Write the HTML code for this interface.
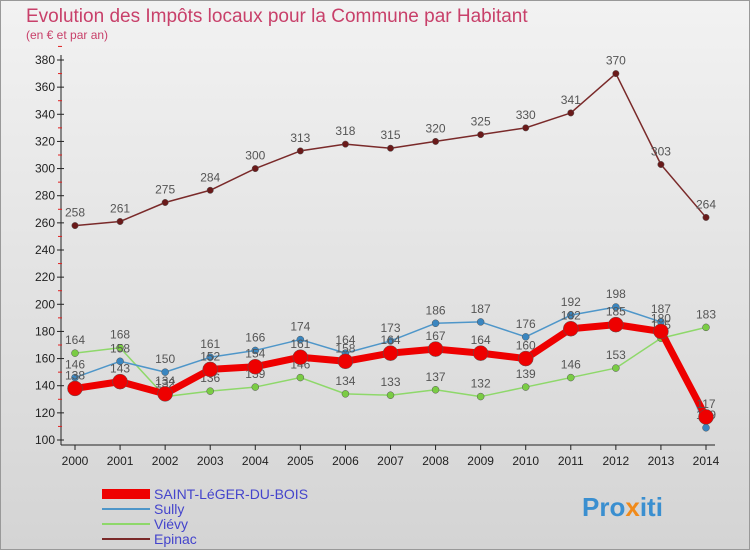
<!DOCTYPE html>
<html><head><meta charset="utf-8"><style>
body{margin:0;width:750px;height:550px;overflow:hidden;font-family:"Liberation Sans",sans-serif}
</style></head><body>
<svg width="750" height="550" viewBox="0 0 750 550" xmlns="http://www.w3.org/2000/svg">
<defs>
<linearGradient id="bg" x1="0" y1="0" x2="0" y2="1"><stop offset="0" stop-color="#f2f2f2"/><stop offset="1" stop-color="#d4d4d4"/></linearGradient>
</defs>
<rect x="0.5" y="0.5" width="749" height="549" fill="url(#bg)" stroke="#999"/>
<text x="26" y="22" font-size="19" fill="#c8406a">Evolution des Impôts locaux pour la Commune par Habitant</text>
<text x="26" y="39" font-size="12" fill="#c8406a">(en € et par an)</text>
<g id="axes"></g>
<g id="series"></g>
<g id="legend">
<rect x="102" y="489" width="48" height="10" fill="#ee0000"/>
<text x="154" y="499" font-size="14" fill="#4444cc">SAINT-LéGER-DU-BOIS</text>
<line x1="102" y1="509" x2="150" y2="509" stroke="#4e96c9" stroke-width="2"/>
<text x="154" y="514" font-size="14" fill="#4444cc">Sully</text>
<line x1="102" y1="524" x2="150" y2="524" stroke="#8ed86a" stroke-width="2"/>
<text x="154" y="529" font-size="14" fill="#4444cc">Viévy</text>
<line x1="102" y1="539" x2="150" y2="539" stroke="#7a2a2a" stroke-width="2"/>
<text x="154" y="544" font-size="14" fill="#4444cc">Epinac</text>
</g>
<text x="582" y="516" font-size="26" font-weight="bold" fill="#3a8fd0">Pro<tspan fill="#f08a1a">x</tspan>iti</text>
</svg>
<script>
const years=[2000,2001,2002,2003,2004,2005,2006,2007,2008,2009,2010,2011,2012,2013,2014];
const yTicks=[100,120,140,160,180,200,220,240,260,280,300,320,340,360,380];
const epinac=[258,261,275,284,300,313,318,315,320,325,330,341,370,303,264];
const sully=[146,158,150,161,166,174,164,173,186,187,176,192,198,187,109];
const vievy=[164,168,132,136,139,146,134,133,137,132,139,146,153,175,183];
const saintLeger=[138,143,134,152,154,161,158,164,167,164,160,182,185,180,117];
const NS="http://www.w3.org/2000/svg";
const x=i=>75+i*(706-75)/(years.length-1);
const y=v=>440-(v-100)*(380/280);
function mk(t,a,p){const e=document.createElementNS(NS,t);for(const k in a)e.setAttribute(k,a[k]);p.appendChild(e);return e;}
const ax=document.getElementById('axes');
const yl=mk('line',{x1:61,y1:55,x2:61,y2:445,stroke:'#222'},ax);


const xl=mk('line',{x1:61,y1:445,x2:715,y2:445,stroke:'#222'},ax);


yTicks.forEach(v=>{
 mk('line',{x1:57,y1:y(v),x2:64,y2:y(v),stroke:'#222'},ax);
 mk('line',{x1:58,y1:y(v+10),x2:62,y2:y(v+10),stroke:'#e02020'},ax);
 const t=mk('text',{x:55,y:y(v)+4,'font-size':12,'text-anchor':'end',fill:'#222'},ax);t.textContent=v;
 
 
});
years.forEach((yr,i)=>{
 mk('line',{x1:x(i),y1:445,x2:x(i),y2:450,stroke:'#222'},ax);
 const t=mk('text',{x:x(i),y:465,'font-size':12,'text-anchor':'middle',fill:'#222'},ax);t.textContent=yr;
 
 
});
const sg=document.getElementById('series');
function series(data,color,w,r,name,fill){
 const g=mk('g',{},sg);
 
 
 mk('polyline',{points:data.map((v,i)=>x(i)+','+y(v)).join(' '),fill:'none',stroke:color,'stroke-width':w,'stroke-linejoin':'round'},g);
 data.forEach((v,i)=>{
  const c=mk('circle',{cx:x(i),cy:y(v),r:r,fill:fill,stroke:'#555','stroke-width':0.5},g);
  
  
  const t=mk('text',{x:x(i),y:y(v)-9,'font-size':12,'text-anchor':'middle',fill:'#555'},g);t.textContent=v;
  
  
 });
}
series(epinac,'#7a2a2a',1.5,3.2,'series-epinac','#6a1a1a');
series(vievy,'#8ed86a',1.5,3.5,'series-vievy','#7acc44');
series(sully,'#4e96c9',1.5,3.5,'series-sully','#3a86c0');
series(saintLeger,'#ee0000',7,7.5,'series-saint-leger','#ee0000');
</script>
</body></html>
